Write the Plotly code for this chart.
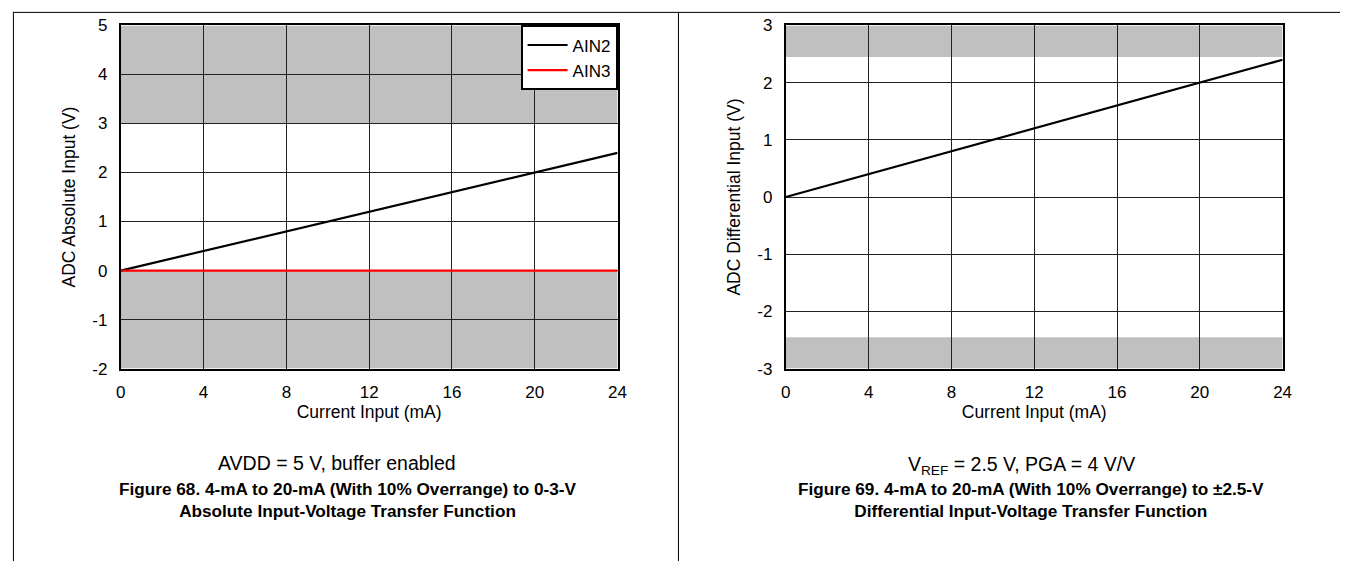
import plotly.graph_objects as go

W, H = 1349, 571

# ---- data ----
current_ma = [0, 24]
ain2_v = [0, 2.4]
ain3_v = [0, 0]
diff_v = [0, 2.4]

x_ticks = [0, 4, 8, 12, 16, 20, 24]
y1_ticks = [-2, -1, 0, 1, 2, 3, 4, 5]
y2_ticks = [-3, -2, -1, 0, 1, 2, 3]

# shaded (out-of-range) bands: (y0, y1)
left_bands = [(3, 5), (-2, 0)]
right_bands = [(2.45, 3), (-3, -2.45)]

FONT = "Liberation Sans, Arial, sans-serif"
TICK_SIZE = 17
TITLE_SIZE = 17.5

def px_x(x):
    return x / W

def px_y(y):
    return 1 - y / H

fig = go.Figure()

fig.add_trace(go.Scatter(x=current_ma, y=ain2_v, mode="lines", name="AIN2",
                         line=dict(color="black", width=2.2), xaxis="x", yaxis="y"))
fig.add_trace(go.Scatter(x=current_ma, y=ain3_v, mode="lines", name="AIN3",
                         line=dict(color="#ff0000", width=2.2), xaxis="x", yaxis="y"))
fig.add_trace(go.Scatter(x=current_ma, y=diff_v, mode="lines", name="Diff",
                         line=dict(color="black", width=2.2), showlegend=False,
                         xaxis="x2", yaxis="y2"))

shapes = []
for (a, b) in left_bands:
    shapes.append(dict(type="rect", xref="x", yref="y", x0=current_ma[0], x1=current_ma[-1],
                       y0=a, y1=b, fillcolor="#c0c0c0", line=dict(width=0), layer="below"))
for (a, b) in right_bands:
    shapes.append(dict(type="rect", xref="x2", yref="y2", x0=current_ma[0], x1=current_ma[-1],
                       y0=a, y1=b, fillcolor="#c0c0c0", line=dict(width=0), layer="below"))

# page frame lines
top_y = px_y(3.5)
shapes.append(dict(type="line", xref="paper", yref="paper", x0=px_x(8), x1=1, y0=top_y, y1=top_y,
                   line=dict(color="black", width=1)))
shapes.append(dict(type="line", xref="paper", yref="paper", x0=px_x(8.5), x1=px_x(8.5), y0=top_y, y1=0,
                   line=dict(color="black", width=1)))
shapes.append(dict(type="line", xref="paper", yref="paper", x0=px_x(680.5), x1=px_x(680.5), y0=top_y, y1=0,
                   line=dict(color="black", width=1)))

def tick_text(vals):
    return [str(v) for v in vals]

axis_common = dict(showline=True, mirror=True, linecolor="black", linewidth=2,
                   showgrid=True, gridcolor="#222222", gridwidth=1, zeroline=False,
                   ticks="", ticklabeloverflow="allow",
                   tickfont=dict(family=FONT, size=TICK_SIZE, color="black"),
                   title_font=dict(family=FONT, size=TITLE_SIZE, color="black"))

ydom = [px_y(372), px_y(17)]

fig.update_layout(
    autosize=True,
    margin=dict(l=0, r=0, t=0, b=0),
    paper_bgcolor="white", plot_bgcolor="white",
    font=dict(family=FONT, size=17, color="black"),
    xaxis=dict(domain=[px_x(117), px_x(619)], range=[0, 24], tickvals=x_ticks,
               ticktext=tick_text(x_ticks), ticklabelstandoff=7,
               title=dict(text="Current Input (mA)", standoff=0), anchor="y", **axis_common),
    yaxis=dict(domain=ydom, range=[-2, 5], tickvals=y1_ticks, ticktext=tick_text(y1_ticks),
               ticklabelstandoff=8,
               title=dict(text="ADC Absolute Input (V)", standoff=12), anchor="x", **axis_common),
    xaxis2=dict(domain=[px_x(789), px_x(1291)], range=[0, 24], tickvals=x_ticks,
                ticktext=tick_text(x_ticks), ticklabelstandoff=7,
                title=dict(text="Current Input (mA)", standoff=0), anchor="y2", **axis_common),
    yaxis2=dict(domain=ydom, range=[-3, 3], tickvals=y2_ticks, ticktext=tick_text(y2_ticks),
                ticklabelstandoff=8,
                title=dict(text="ADC Differential Input (V)", standoff=12), anchor="x2", **axis_common),
    legend=dict(x=px_x(619), xanchor="right", y=px_y(17), yanchor="top",
                bgcolor="white", bordercolor="black", borderwidth=2,
                font=dict(family=FONT, size=17, color="black"),
                tracegroupgap=0, itemwidth=40),
    shapes=shapes,
    showlegend=True,
)

annotations = [
    dict(text="AVDD = 5 V, buffer enabled", x=px_x(335), y=px_y(470), size=19.5),
    dict(text="<b>Figure 68. 4-mA to 20-mA (With 10% Overrange) to 0-3-V<br>Absolute Input-Voltage Transfer Function</b>",
         x=px_x(347), y=px_y(508), size=17.2),
    dict(text="V<sub>REF</sub> = 2.5 V, PGA = 4 V/V", x=px_x(1027), y=px_y(472), size=19.5),
    dict(text="<b>Figure 69. 4-mA to 20-mA (With 10% Overrange) to ±2.5-V<br>Differential Input-Voltage Transfer Function</b>",
         x=px_x(1037), y=px_y(508), size=17.2),
]
for a in annotations:
    fig.add_annotation(text=a["text"], x=a["x"], y=a["y"], xref="paper", yref="paper",
                       showarrow=False, xanchor="center", yanchor="middle",
                       font=dict(family=FONT, size=a["size"], color="black"))

# The graph div is pinned to the page's top-left corner at exactly the window size,
# so the page does not overflow the 1349x571 window.
fig.write_html("out.html", config={"displayModeBar": False},
               default_width=f"{W}px; position:absolute; left:0; top:0",
               default_height=f"{H}px")
